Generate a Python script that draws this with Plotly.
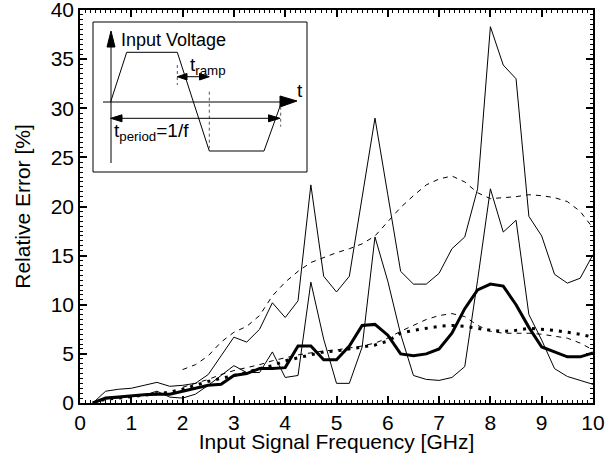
import plotly.graph_objects as go

# ---------------- data ----------------
freq = [0.25, 0.5, 0.75, 1.0, 1.25, 1.5, 1.75, 2.0, 2.25, 2.5, 2.75, 3.0, 3.25, 3.5,
        3.75, 4.0, 4.25, 4.5, 4.75, 5.0, 5.25, 5.5, 5.75, 6.0, 6.25, 6.5, 6.75, 7.0,
        7.25, 7.5, 7.75, 8.0, 8.25, 8.5, 8.75, 9.0, 9.25, 9.5, 9.75, 10.0]

err_max_a = [0, 1.2, 1.4, 1.5, 1.8, 2.1, 1.7, 1.8, 2.0, 2.9, 4.8, 6.7, 6.2, 7.5,
             10.2, 8.7, 10.4, 22.2, 12.9, 11.3, 12.9, 21.0, 29.0, 21.2, 13.4, 12.1, 12.1, 13.2,
             15.7, 16.9, 21.8, 38.3, 34.4, 33.0, 19.0, 17.0, 13.1, 12.2, 12.7, 15.1]

err_max_b = [0, 0.4, 0.5, 0.7, 0.8, 1.2, 0.6, 0.5, 0.9, 1.8, 2.8, 3.8, 3.1, 3.1,
             5.2, 2.6, 2.8, 12.3, 6.5, 2.0, 2.0, 5.7, 16.9, 12.4, 7.0, 2.8, 2.4, 2.3,
             2.6, 3.7, 12.5, 21.8, 17.4, 18.6, 9.0, 6.4, 3.5, 2.7, 2.3, 1.9]

err_mean_a = [0, 0.5, 0.6, 0.75, 0.85, 0.9, 0.9, 1.2, 1.5, 1.8, 1.9, 2.8, 3.0, 3.5,
              3.5, 3.6, 5.8, 5.8, 4.4, 4.4, 5.8, 7.9, 8.0, 6.9, 5.0, 4.8, 5.0, 5.5,
              7.1, 9.6, 11.5, 12.1, 11.9, 10.0, 7.7, 5.7, 5.2, 4.7, 4.7, 5.1]

err_mean_b = [0, 0.4, 0.5, 0.65, 0.8, 1.0, 1.1, 1.4, 1.8, 2.2, 2.5, 2.8, 3.1, 3.5,
              3.8, 4.3, 4.6, 4.9, 5.2, 5.3, 5.5, 5.7, 5.9, 6.3, 7.1, 7.4, 7.6, 7.8,
              7.9, 7.8, 7.6, 7.4, 7.3, 7.4, 7.6, 7.5, 7.4, 7.2, 7.0, 6.7]

freq_d = [2.0, 2.25, 2.5, 2.75, 3.0, 3.25, 3.5, 3.75, 4.0, 4.25, 4.5, 4.75, 5.0, 5.25,
          5.5, 5.75, 6.0, 6.25, 6.5, 6.75, 7.0, 7.25, 7.5, 7.75, 8.0, 8.25, 8.5, 8.75,
          9.0, 9.25, 9.5, 9.75, 10.0]

err_est_a = [3.4, 3.9, 4.8, 6.2, 7.2, 7.8, 8.9, 10.9, 12.3, 13.4, 14.3, 14.8, 15.3, 15.7,
             16.2, 17.0, 18.4, 19.9, 21.1, 22.2, 22.8, 23.1, 22.5, 21.4, 20.8, 20.9, 21.0, 21.2,
             21.1, 20.9, 20.5, 19.5, 17.8]

err_est_b = [1.6, 2.0, 2.4, 2.9, 3.3, 3.6, 3.9, 4.3, 4.6, 4.9, 5.1, 5.3, 5.4, 5.6,
             5.8, 6.1, 6.6, 7.3, 7.9, 8.5, 8.9, 9.1, 8.8, 7.9, 7.3, 7.1, 7.1, 7.1,
             7.0, 6.8, 6.6, 6.1, 5.4]

x_ticks = [0, 1, 2, 3, 4, 5, 6, 7, 8, 9, 10]
y_ticks = [0, 5, 10, 15, 20, 25, 30, 35, 40]

# inset diagram (local units, y downward)
wave_x = [17.7, 33.7, 84.3, 116.3, 171.0, 188.7]
wave_y = [79.7, 30.3, 30.3, 129.0, 129.0, 79.7]

FONT = "Liberation Sans, Arial, Helvetica, sans-serif"

fig = go.Figure()

def add_line(x, y, width, dash):
    fig.add_trace(go.Scatter(x=x, y=y, mode="lines",
                             line=dict(color="black", width=width, dash=dash),
                             hoverinfo="skip", showlegend=False))

add_line(freq_d, err_est_a, 1, "5px,5px")
add_line(freq_d, err_est_b, 1, "5px,5px")
add_line(freq, err_max_a, 1, "solid")
add_line(freq, err_max_b, 1, "solid")
add_line(freq, err_mean_b, 3, "3px,6px")
add_line(freq, err_mean_a, 3, "solid")

# inset wave on its own hidden axes
fig.add_trace(go.Scatter(x=wave_x, y=wave_y, mode="lines", xaxis="x2", yaxis="y2",
                         line=dict(color="black", width=1), hoverinfo="skip",
                         showlegend=False))

# plot area in px: x 80..593, y 10..403
L, R, T, B = 80, 593, 10, 403
W, H = 615, 453
box = (93, 22, 307, 172)
dx0 = (box[0] - L) / (R - L)
dx1 = (box[2] - L) / (R - L)
dy0 = (B - box[3]) / (B - T)
dy1 = (B - box[1]) / (B - T)

axis_common = dict(showline=True, linecolor="black", linewidth=1.5, mirror="allticks",
                   ticks="inside", tickcolor="black", tickwidth=1.5, ticklen=7,
                   showgrid=False, zeroline=False, automargin=False,
                   ticklabeloverflow="allow",
                   tickfont=dict(size=21, family=FONT, color="black"))

fig.update_layout(
    width=W, height=H,
    margin=dict(l=L, r=W - R, t=T, b=H - B, pad=0, autoexpand=False),
    plot_bgcolor="white", paper_bgcolor="white",
    font=dict(family=FONT, size=21, color="black"),
    showlegend=False,
    xaxis=dict(range=[0, 10], tickmode="array", tickvals=x_ticks,
               minor=dict(dtick=0.1, tick0=0, ticks="inside", ticklen=3.5, tickwidth=1,
                          tickcolor="black"),
               title=dict(text="Input Signal Frequency [GHz]", standoff=2,
                          font=dict(size=21, family=FONT)),
               **axis_common),
    yaxis=dict(range=[0, 40], tickmode="array", tickvals=y_ticks,
               minor=dict(dtick=0.5, tick0=0, ticks="inside", ticklen=3.5, tickwidth=1,
                          tickcolor="black"),
               title=dict(text="Relative Error [%]", standoff=14,
                          font=dict(size=21, family=FONT)),
               **axis_common),
    xaxis2=dict(domain=[dx0, dx1], range=[0, box[2] - box[0]], anchor="y2",
                visible=False, fixedrange=True),
    yaxis2=dict(domain=[dy0, dy1], range=[box[3] - box[1], 0], anchor="x2",
                visible=False, fixedrange=True),
)

shapes = []
# inset frame
shapes.append(dict(type="rect", xref="x2 domain", yref="y2 domain", x0=0, x1=1, y0=0, y1=1,
                   line=dict(color="black", width=1), fillcolor="rgba(0,0,0,0)"))

def seg(x0, y0, x1, y1, width=1, dash="solid", color="black"):
    shapes.append(dict(type="line", xref="x2", yref="y2", x0=x0, y0=y0, x1=x1, y1=y1,
                       line=dict(color=color, width=width, dash=dash)))

def tri(pts):
    p = "M {} {} L {} {} L {} {} Z".format(*[c for pt in pts for c in pt])
    shapes.append(dict(type="path", xref="x2", yref="y2", path=p,
                       fillcolor="black", line=dict(color="black", width=1)))

# vertical axis with arrow
seg(18, 141, 18, 24)
tri([(18, 9), (14, 25), (22, 25)])
# horizontal axis with arrow
seg(10, 80, 188, 80)
tri([(204, 79), (187, 74), (187, 85)])
# dashed guides
seg(84.3, 43, 84.3, 63, dash="3px,3px", color="#555555")
seg(116.3, 69.7, 116.3, 126.3, dash="3px,3px", color="#555555")
seg(187.7, 84.7, 187.7, 104.7, dash="3px,3px", color="#555555")
# t_ramp arrow
seg(92, 54.7, 108, 54.7)
tri([(84.3, 54.7), (94, 51.5), (94, 58)])
tri([(116.3, 54.7), (106.5, 51.5), (106.5, 58)])
# t_period arrow
seg(28, 96.3, 177, 96.3)
tri([(17.7, 96.3), (29, 92.8), (29, 99.8)])
tri([(187, 96.3), (175.5, 92.8), (175.5, 99.8)])

fig.update_layout(shapes=shapes)

ann = [
    dict(text="Input Voltage", x=26, y=18, xanchor="left", yanchor="middle", size=18),
    dict(text="t", x=202, y=68, xanchor="left", yanchor="middle", size=19),
    dict(text="t<sub>ramp</sub>", x=95, y=44, xanchor="left", yanchor="middle", size=19),
    dict(text="t<sub>period</sub>=1/f", x=19, y=110, xanchor="left", yanchor="middle", size=19),
]
for a in ann:
    s = a.pop("size")
    a.update(xref="x2", yref="y2", showarrow=False,
             font=dict(size=s, family=FONT, color="black"))
fig.update_layout(annotations=ann)

fig.write_html("out.html")
